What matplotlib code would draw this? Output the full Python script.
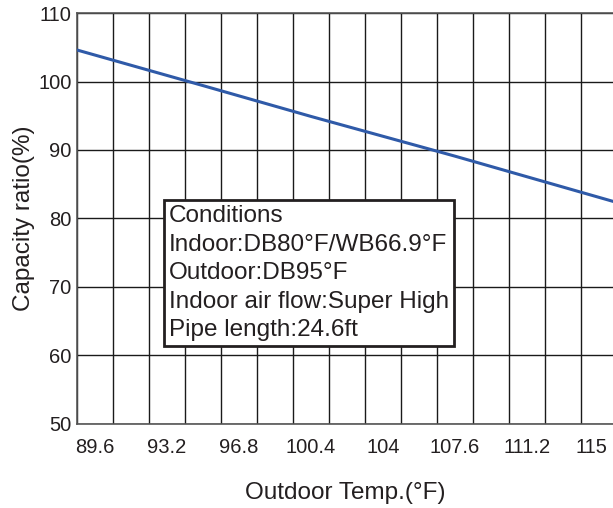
import numpy as np
import matplotlib.pyplot as plt

plt.rcParams['font.family'] = ['Liberation Sans', 'DejaVu Sans']

# data
temps = [88.7, 95.0, 100.4, 107.6, 115.5]
ratio = [104.6, 99.4, 94.9, 89.1, 82.5]
tick_pos = [89.6, 93.2, 96.8, 100.4, 104, 107.6, 111.2, 114.4]
tick_lbl = ['89.6', '93.2', '96.8', '100.4', '104', '107.6', '111.2', '115']
y_ticks = [50, 60, 70, 80, 90, 100, 110]
cond_text = ('Conditions\nIndoor:DB80°F/WB66.9°F\nOutdoor:DB95°F\n'
             'Indoor air flow:Super High\nPipe length:24.6ft')

fig = plt.figure(figsize=(6.13, 5.08), dpi=100)
ax = fig.add_axes([0.1256, 0.1654, 0.8744, 0.809])

xmin, xmax = 88.7, 115.5
ax.set_xlim(xmin, xmax)
ax.set_ylim(50, 110)

# grid: one vertical line every 1.8 F, horizontal every 10 %
ax.set_xticks(np.arange(xmin, xmax + 0.01, 1.8), minor=True)
ax.set_xticks(tick_pos)
ax.set_xticklabels(tick_lbl)
ax.set_yticks(y_ticks)
ax.grid(True, which='minor', axis='x', color='#1a1a1a', linewidth=1.0)
ax.grid(True, which='major', axis='y', color='#1a1a1a', linewidth=1.0)
ax.tick_params(which='both', length=0, labelsize=14.5, colors='#231f20')
ax.tick_params(axis='x', pad=10)
ax.tick_params(axis='y', pad=4)

ax.spines['right'].set_visible(False)
for side in ['left', 'bottom', 'top']:
    ax.spines[side].set_color('#555555')
    ax.spines[side].set_linewidth(1.2)

ax.plot(temps, ratio, color='#2f5aa8', linewidth=2.2, zorder=3)

ax.text(0.171, 0.532, cond_text, transform=ax.transAxes, fontsize=17.5,
        va='top', ha='left', color='#231f20', linespacing=1.38, zorder=4,
        bbox=dict(boxstyle='square,pad=0.2', facecolor='white',
                  edgecolor='#231f20', linewidth=2))

ax.set_xlabel('Outdoor Temp.(°F)', fontsize=17.5, color='#231f20', labelpad=18)
ax.set_ylabel('Capacity ratio(%)', fontsize=17.5, color='#231f20', labelpad=2)

fig.savefig('out.png', dpi=100)
